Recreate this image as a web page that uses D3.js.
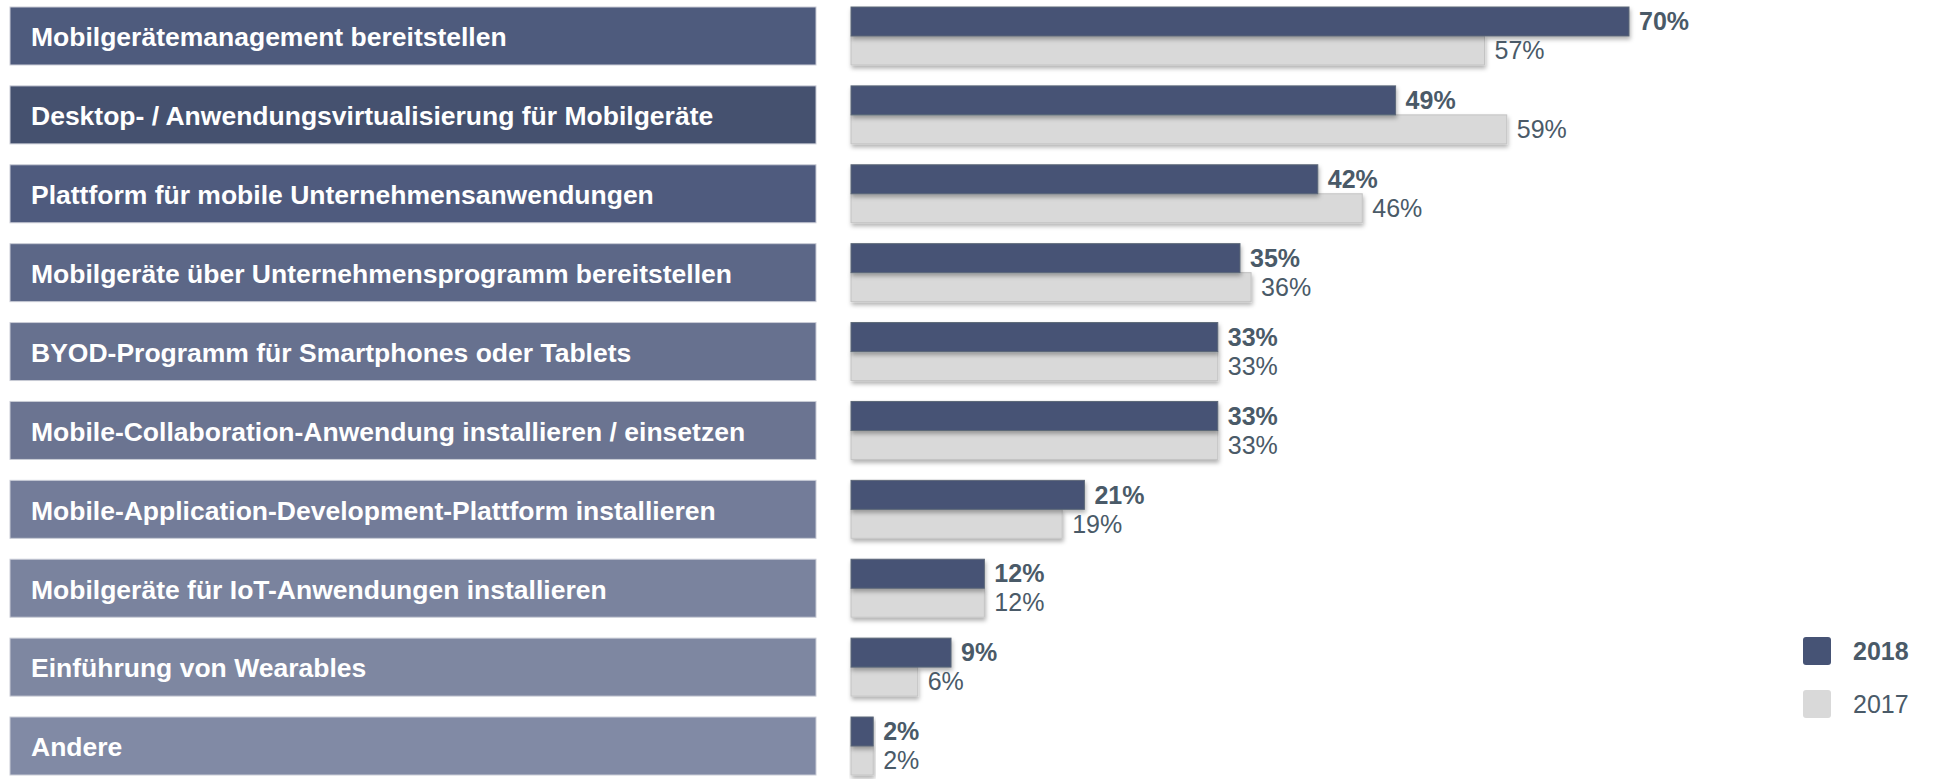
<!DOCTYPE html>
<html>
<head>
<meta charset="utf-8">
<script src="https://cdn.jsdelivr.net/npm/d3@7"></script>
<style>
  body { margin: 0; background: #fff; }
  svg { display: block; font-family: "Liberation Sans", Arial, sans-serif; }
</style>
</head>
<body>
<svg width="1933" height="779"></svg>
<script>
// data
const categories = [
    "Mobilgerätemanagement bereitstellen",
    "Desktop- / Anwendungsvirtualisierung für Mobilgeräte",
    "Plattform für mobile Unternehmensanwendungen",
    "Mobilgeräte über Unternehmensprogramm bereitstellen",
    "BYOD-Programm für Smartphones oder Tablets",
    "Mobile-Collaboration-Anwendung installieren / einsetzen",
    "Mobile-Application-Development-Plattform installieren",
    "Mobilgeräte für IoT-Anwendungen installieren",
    "Einführung von Wearables",
    "Andere"
];
const values2018 = [70, 49, 42, 35, 33, 33, 21, 12, 9, 2];
const values2017 = [57, 59, 46, 36, 33, 33, 19, 12, 6, 2];
const seriesNames = ["2018", "2017"];

// label box shades, darkest at top
const boxColors = ["#4e5b7d", "#45516f", "#4f5b7e", "#5c6787", "#67718f",
                   "#6b7491", "#737c99", "#7a839e", "#7e87a1", "#818aa5"];
const dark = "#465375";
const light = "#d9d9d9";
const textCol = "#4a5a68";

let svg = d3.select("svg");

let defs = svg.append("defs");
defs.append("filter")
    .attr("id", "shadow")
    .attr("x", "-5%").attr("y", "-20%")
    .attr("width", "115%").attr("height", "160%")
  .append("feDropShadow")
    .attr("dx", 1).attr("dy", 3)
    .attr("stdDeviation", 2)
    .attr("flood-color", "#000")
    .attr("flood-opacity", 0.3);

let y = d3.scaleBand()
    .domain(categories)
    .range([7, 775])
    .paddingInner(0.265)
    .paddingOuter(0);

let x = d3.scaleLinear()
    .domain([0, 70])
    .range([851, 1629]);

let rows = categories.map((c, i) => ({
    name: c, v18: values2018[i], v17: values2017[i], color: boxColors[i]
}));

// label boxes on the left
let labels = svg.append("g").attr("class", "labels");
labels.selectAll("rect")
    .data(rows)
    .enter().append("rect")
    .attr("x", 10)
    .attr("y", d => y(d.name))
    .attr("width", 806)
    .attr("height", y.bandwidth())
    .style("fill", d => d.color)
    .style("stroke", "#c9ccd6")
    .style("stroke-width", 1);

labels.selectAll("text")
    .data(rows)
    .enter().append("text")
    .attr("x", 31)
    .attr("y", d => y(d.name) + y.bandwidth() / 2 + 1)
    .attr("dy", "0.35em")
    .style("fill", "#fff")
    .style("font-weight", "bold")
    .style("font-size", "26.5px")
    .text(d => d.name);

// bars
let half = y.bandwidth() / 2;
let bars = svg.append("g").attr("class", "bars");

bars.selectAll("rect.b17")
    .data(rows)
    .enter().append("rect")
    .attr("class", "b17")
    .attr("x", x(0))
    .attr("y", d => y(d.name) + half)
    .attr("width", d => x(d.v17) - x(0))
    .attr("height", half)
    .style("fill", light)
    .style("stroke", "#c4c4c4")
    .style("stroke-width", 1)
    .attr("filter", "url(#shadow)");

bars.selectAll("rect.b18")
    .data(rows)
    .enter().append("rect")
    .attr("class", "b18")
    .attr("x", x(0))
    .attr("y", d => y(d.name))
    .attr("width", d => x(d.v18) - x(0))
    .attr("height", half)
    .style("fill", dark)
    .style("stroke", "#5d6878")
    .style("stroke-width", 1)
    .attr("filter", "url(#shadow)");

bars.selectAll("text.t18")
    .data(rows)
    .enter().append("text")
    .attr("class", "t18")
    .attr("x", d => x(d.v18) + 10)
    .attr("y", d => y(d.name) + half / 2)
    .attr("dy", "0.35em")
    .style("fill", textCol)
    .style("font-weight", "bold")
    .style("font-size", "25px")
    .text(d => d.v18 + "%");

bars.selectAll("text.t17")
    .data(rows)
    .enter().append("text")
    .attr("class", "t17")
    .attr("x", d => x(d.v17) + 10)
    .attr("y", d => y(d.name) + half * 1.5)
    .attr("dy", "0.35em")
    .style("fill", textCol)
    .style("font-size", "25px")
    .text(d => d.v17 + "%");

// legend
let legend = svg.append("g")
    .attr("transform", "translate(1803,637)");
let items = legend.selectAll("g")
    .data(seriesNames)
    .enter().append("g")
    .attr("transform", (d, i) => `translate(0,${i * 53})`);
items.append("rect")
    .attr("width", 28)
    .attr("height", 28)
    .attr("rx", 3)
    .style("fill", (d, i) => i == 0 ? dark : light);
items.append("text")
    .attr("x", 50)
    .attr("y", 14)
    .attr("dy", "0.35em")
    .style("fill", textCol)
    .style("font-size", "25px")
    .style("font-weight", (d, i) => i == 0 ? "bold" : "normal")
    .text(d => d);
</script>
</body>
</html>
